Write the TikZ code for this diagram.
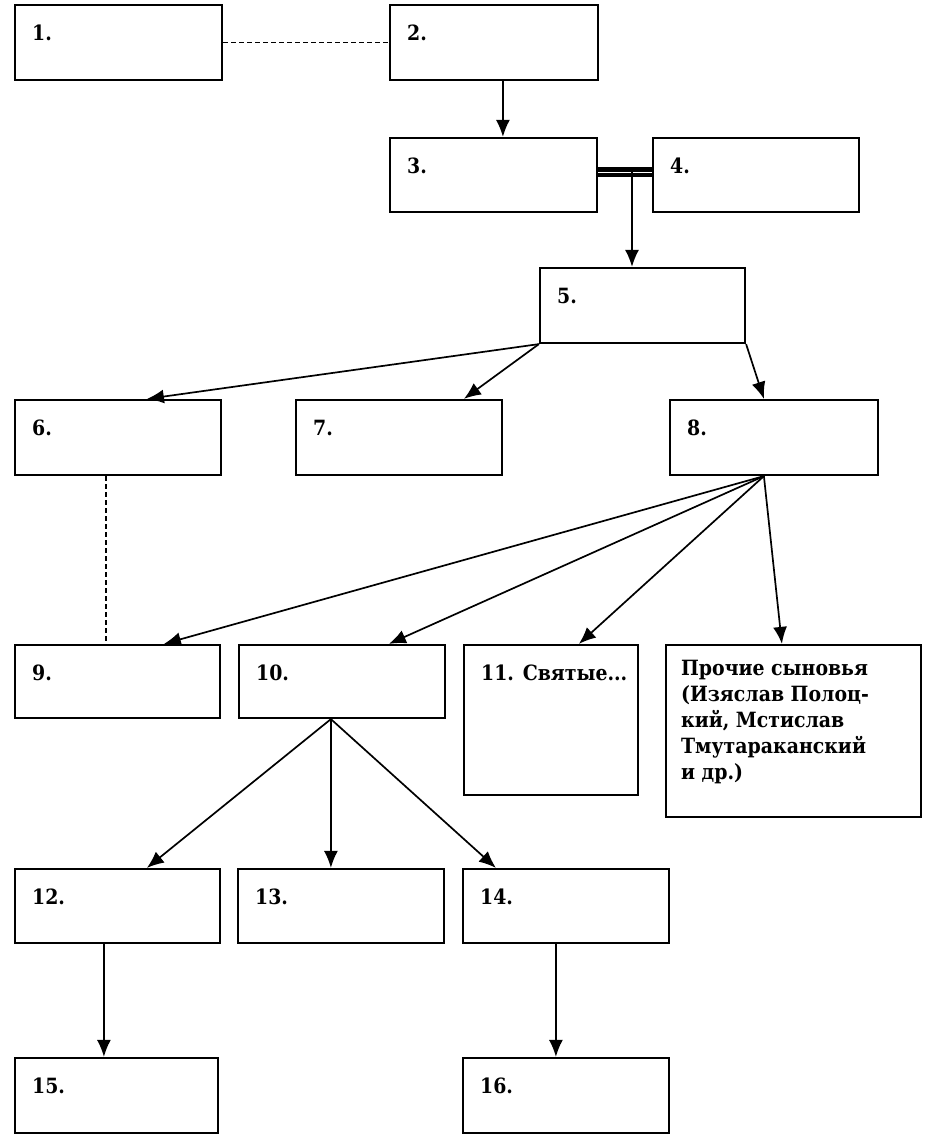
\documentclass[tikz,border=0pt]{standalone}
\usepackage{fontspec}
\setmainfont[FakeStretch=0.9]{DejaVu Serif}
\usetikzlibrary{arrows.meta,calc}
\tikzset{
  box/.style={draw, line width=2.2pt, inner sep=0pt, fill=white},
  lbl/.style={inner sep=0pt, font=\bfseries\fontsize{21}{26}\selectfont},
  conn/.style={line width=1.7pt, -{Latex[length=17pt,width=14pt]}},
  dashline/.style={line width=1.4pt, dash pattern=on 5pt off 3pt},
}
\newcommand\bx[6]{%
  \node[box, minimum width={(#4-#2)*1pt}, minimum height={(#5-#3)*1pt}] (#1) at ({(#2+#4)/2},{(#3+#5)/2}) {};
  \node[lbl, anchor=base west] (#1t) at ($(#1.north west)+(18,37)$) {#6};}
\begin{document}
\begin{tikzpicture}[x=1pt,y=-1pt]
\useasboundingbox[fill=white] (0,0) rectangle (938,1145);
\bx{n1}{15}{5}{222}{80}{1.}
\bx{n2}{390}{5}{598}{80}{2.}
\bx{n3}{390}{138}{597}{212}{3.}
\bx{n4}{653}{138}{859}{212}{4.}
\bx{n5}{540}{268}{745}{343}{5.}
\bx{n6}{15}{400}{221}{475}{6.}
\bx{n7}{296}{400}{502}{475}{7.}
\bx{n8}{670}{400}{878}{475}{8.}
\bx{n9}{15}{645}{220}{718}{9.}
\bx{n10}{239}{645}{445}{718}{10.}
\bx{n11}{464}{645}{638}{795}{11. Святые...}
\node[box, minimum width=255pt, minimum height=172pt] (np) at (793.5,731) {};
\node[lbl, anchor=north west, align=left] (npt) at ($(np.north west)+(16,16)$) {Прочие сыновья\\(Изяслав Полоц-\\кий, Мстислав\\Тмутараканский\\и др.)};
\bx{n12}{15}{869}{220}{943}{12.}
\bx{n13}{238}{869}{444}{943}{13.}
\bx{n14}{463}{869}{669}{943}{14.}
\bx{n15}{15}{1058}{218}{1133}{15.}
\bx{n16}{463}{1058}{669}{1133}{16.}

% dashed links
\draw[dashline] (n1.east) -- (n2.west);
\draw[dashline] ($(n6.south west)+(92,0)$) -- ($(n9.north west)+(92,0)$);

% arrows
\draw[conn] ($(n2.south west)+(114,0)$) -- ($(n3.north west)+(114,0)$);
\draw[line width=4.2pt, double, double distance=0.8pt] ($(n3.east)+(0,-3)$) -- ($(n4.west)+(0,-3)$);
\coordinate (j34) at ($(n3.east)!0.63!(n4.west)+(0,-3)$);
\draw[conn] (j34) -- (j34 |- n5.north);
\draw[conn] (n5.south west) -- ($(n6.north west)+(133,0)$);
\draw[conn] (n5.south west) -- ($(n7.north west)+(169,0)$);
\draw[conn] (n5.south east) -- ($(n8.north west)+(95,0)$);
\coordinate (s8) at ($(n8.south west)+(95,0)$);
\draw[conn] (s8) -- ($(n9.north west)+(150,0)$);
\draw[conn] (s8) -- ($(n10.north west)+(151,0)$);
\draw[conn] (s8) -- ($(n11.north west)+(116,0)$);
\draw[conn] (s8) -- ($(np.north west)+(117,0)$);
\coordinate (s10) at ($(n10.south west)+(93,0)$);
\draw[conn] (s10) -- ($(n12.north west)+(133,0)$);
\draw[conn] (s10) -- (s10 |- n13.north);
\draw[conn] (s10) -- ($(n14.north west)+(34,0)$);
\draw[conn] ($(n12.south west)+(90,0)$) -- ($(n15.north west)+(90,0)$);
\draw[conn] ($(n14.south west)+(94,0)$) -- ($(n16.north west)+(94,0)$);
\end{tikzpicture}
\end{document}
